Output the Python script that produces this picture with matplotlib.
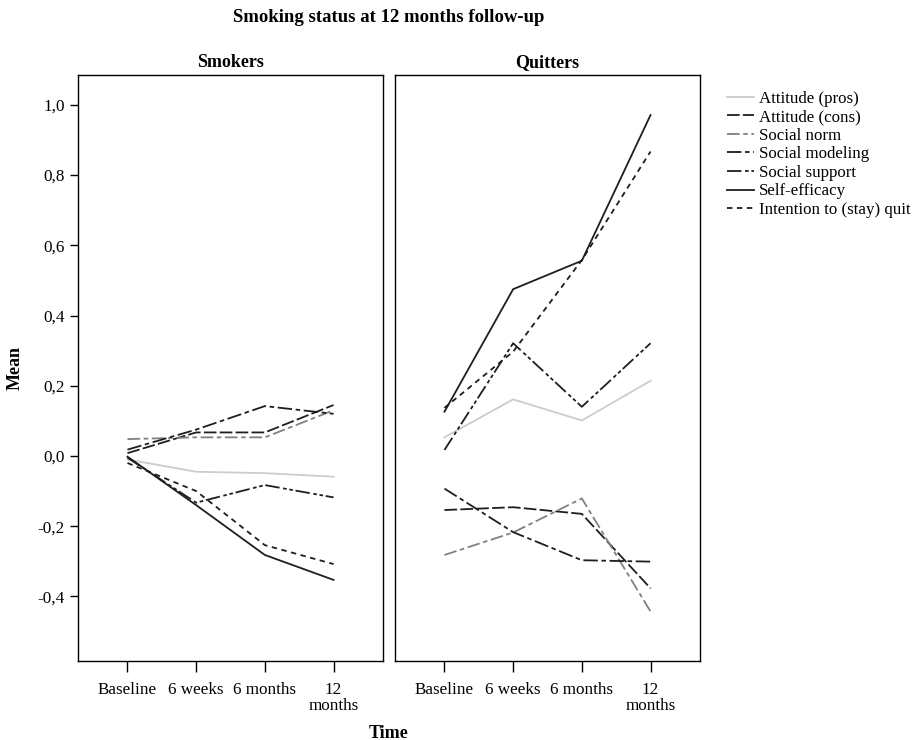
import numpy as np
import matplotlib.pyplot as plt

plt.rcParams['font.family'] = ['Liberation Serif', 'DejaVu Serif']

time_labels = ['Baseline', '6 weeks', '6 months', '12\nmonths']
series = ['Attitude (pros)', 'Attitude (cons)', 'Social norm', 'Social modeling',
          'Social support', 'Self-efficacy', 'Intention to (stay) quit']

# smokers
s_pros = [-0.010, -0.045, -0.049, -0.059]
s_cons = [0.008, 0.067, 0.067, 0.145]
s_norm = [0.048, 0.053, 0.053, 0.130]
s_model = [0.018, 0.075, 0.142, 0.120]
s_support = [-0.005, -0.133, -0.083, -0.118]
s_efficacy = [-0.002, -0.140, -0.282, -0.353]
s_intention = [-0.020, -0.100, -0.254, -0.308]

# quitters
q_pros = [0.053, 0.161, 0.101, 0.214]
q_cons = [-0.154, -0.146, -0.165, -0.377]
q_norm = [-0.282, -0.218, -0.121, -0.443]
q_model = [-0.093, -0.217, -0.297, -0.301]
q_support = [0.017, 0.321, 0.140, 0.321]
q_efficacy = [0.126, 0.475, 0.556, 0.971]
q_intention = [0.137, 0.297, 0.558, 0.867]

smokers = [s_pros, s_cons, s_norm, s_model, s_support, s_efficacy, s_intention]
quitters = [q_pros, q_cons, q_norm, q_model, q_support, q_efficacy, q_intention]

dk = '#1e1e1e'
styles = [
    dict(color='#cccccc', ls='-'),
    dict(color=dk, ls=(0, (7, 1.8))),
    dict(color='#808080', ls=(0, (7, 2, 2.5, 2))),
    dict(color=dk, ls=(0, (8, 2, 2.5, 2))),
    dict(color=dk, ls=(0, (8, 2, 2, 1.5, 2, 1.5))),
    dict(color=dk, ls='-'),
    dict(color=dk, ls=(0, (3, 2.5))),
]

fig = plt.figure(figsize=(9.19, 7.4), dpi=100)
ax1 = fig.add_axes([78 / 919, 1 - 661 / 740, 305 / 919, 586 / 740])
ax2 = fig.add_axes([395 / 919, 1 - 661 / 740, 305 / 919, 586 / 740])

x = np.arange(len(time_labels))
for ax, data, name in [(ax1, smokers, 'Smokers'), (ax2, quitters, 'Quitters')]:
    for vals, lab, st in zip(data, series, styles):
        ax.plot(x, vals, lw=1.3, label=lab, **st)
    ax.set_xlim(-0.72, 3.72)
    ax.set_ylim(-0.584, 1.085)
    ax.set_xticks(x)
    ax.set_xticklabels(time_labels, fontsize=12.3, linespacing=1.0)
    ax.tick_params(axis='x', length=8, width=1, pad=7)
    ax.set_title(name, fontsize=13, fontweight='bold', pad=6)
    for sp in ax.spines.values():
        sp.set_linewidth(1)

ax1.set_yticks([-0.4, -0.2, 0.0, 0.2, 0.4, 0.6, 0.8, 1.0])
ax1.set_yticklabels(['-0,4', '-0,2', '0,0', '0,2', '0,4', '0,6', '0,8', '1,0'], fontsize=12.3)
ax1.tick_params(axis='y', length=6, width=1)
ax2.set_yticks([])
ax1.set_ylabel('Mean', fontsize=13, fontweight='bold', labelpad=10)

fig.text(389 / 919, 1 - 733 / 740, 'Time', fontsize=13, fontweight='bold', ha='center', va='center')
fig.text(389 / 919, 1 - 18 / 740, 'Smoking status at 12 months follow-up', fontsize=13.5,
         fontweight='bold', ha='center', va='center')

h, l = ax2.get_legend_handles_labels()
fig.legend(h, l, loc='upper left', bbox_to_anchor=(720 / 919, 1 - 84 / 740), frameon=False,
           fontsize=12.2, handlelength=1.6, handletextpad=0.3, labelspacing=0.15, borderaxespad=0)

fig.savefig('out.png', dpi=100)
